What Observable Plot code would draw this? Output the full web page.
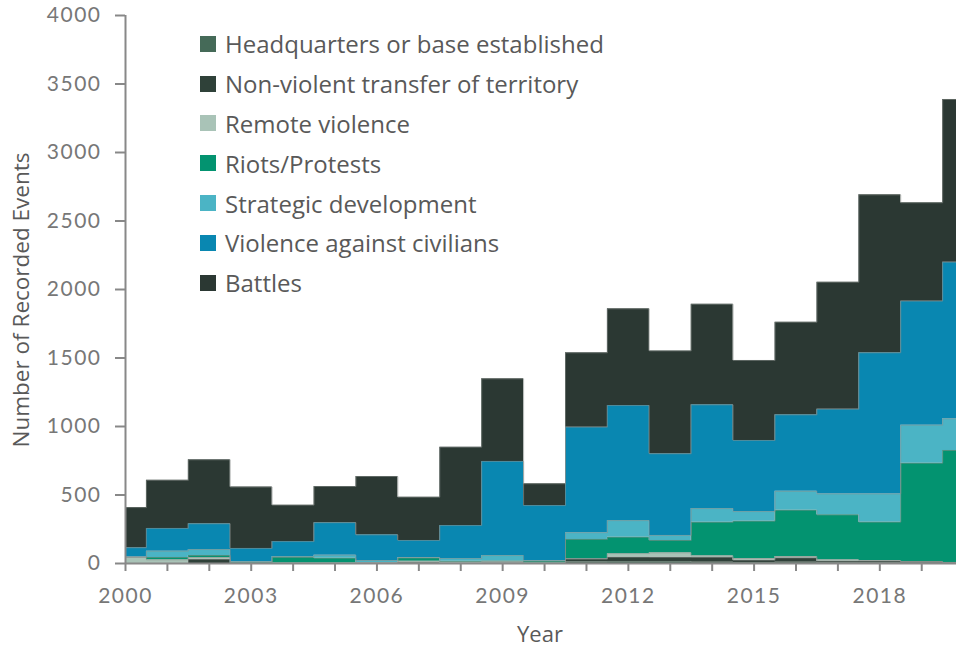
<!DOCTYPE html>
<html>
<head>
<meta charset="utf-8">
<script src="https://cdn.jsdelivr.net/npm/d3@7"></script>
<script src="https://cdn.jsdelivr.net/npm/@observablehq/plot@0.6"></script>
<style>
  html, body { margin: 0; padding: 0; background: #fff; }
  #wrap { position: relative; width: 956px; height: 648px; overflow: hidden; }
  #legend { position: absolute; left: 200px; top: 24px; font-family: "Open Sans", Lato, sans-serif; font-size: 24px; color: #595959; }
  #legend .row { display: flex; align-items: center; height: 39.8px; }
  #legend .sw { width: 16px; height: 16px; margin-right: 9px; flex: none; }
  #ylab { position: absolute; left: 20px; top: 300px; transform: translate(-50%, -50%) rotate(-90deg); white-space: nowrap; font-family: "Open Sans", sans-serif; font-size: 22.5px; color: #595959; }
  #xlab { position: absolute; left: 540px; top: 633px; transform: translate(-50%, -50%); font-family: "Open Sans", sans-serif; font-size: 22px; color: #595959; }
  #chart svg g[aria-label="x-axis tick label"] text,
  #chart svg g[aria-label="y-axis tick label"] text { letter-spacing: 1.5px; }
</style>
</head>
<body>
<div id="wrap">
  <div id="chart"></div>
  <div id="legend"></div>
  <div id="ylab">Number of Recorded Events</div>
  <div id="xlab">Year</div>
</div>
<script>
const years = [2000,2001,2002,2003,2004,2005,2006,2007,2008,2009,2010,2011,2012,2013,2014,2015,2016,2017,2018,2019,2020];
const categories = ["Headquarters or base established","Non-violent transfer of territory","Remote violence","Riots/Protests","Strategic development","Violence against civilians","Battles"];
const colors = ["#456a58","#2f4139","#a9c3b7","#039370","#4bb4c5","#0987b1","#2b3833"];

const headquarters = [0,0,0,0,0,0,0,0,0,3,0,12,15,15,10,8,10,5,5,4,2];
const nonViolent   = [0,0,29,0,0,0,0,5,0,0,0,20,31,30,34,16,31,12,12,8,3];
const remote       = [46,27,15,2,4,3,3,12,10,10,4,3,26,33,12,12,10,10,5,3,3];
const riots        = [0,17,14,8,40,36,2,24,6,5,13,141,120,90,245,273,338,328,280,717,817];
const strategic    = [2,46,44,3,7,22,17,2,20,40,3,49,121,37,100,70,138,153,206,278,231];
const violence     = [67,166,188,97,109,237,187,125,241,687,403,770,840,596,757,519,558,618,1030,905,1143];
const battles      = [293,351,467,448,266,264,426,316,572,603,159,543,706,751,734,584,676,927,1153,718,1188];

const yTicks = [0,500,1000,1500,2000,2500,3000,3500,4000];
const xLabelYears = [2000,2003,2006,2009,2012,2015,2018];

const series = [headquarters, nonViolent, remote, riots, strategic, violence, battles];
const data = [];
series.forEach((vals, i) => vals.forEach((v, j) => data.push({year: years[j], type: categories[i], value: v})));

const chart = Plot.plot({
  width: 956,
  height: 648,
  marginLeft: 125,
  marginRight: 0,
  marginTop: 15,
  marginBottom: 85,
  style: {fontFamily: "Lato, sans-serif", fontSize: "21px", color: "#777", background: "#fff"},
  x: {domain: [2000, 2019.83]},
  y: {domain: [0, 4000]},
  color: {domain: categories, range: colors},
  marks: [
    Plot.areaY(data, {x: "year", y: "value", z: "type", fill: "type", order: categories, curve: "step", clip: true}),
    Plot.lineY(data, Plot.stackY2({x: "year", y: "value", z: "type", order: categories, curve: "step", stroke: "#8a908d", strokeWidth: 1, strokeOpacity: 0.55, clip: true})),
    Plot.axisY({ticks: yTicks, tickSize: 10, tickPadding: 14, tickFormat: d => String(d), label: null, stroke: "#888", strokeWidth: 2, fill: "#777"}),
    Plot.axisX({ticks: years.filter(y => y < 2020), tickSize: 8, tickPadding: 17, tickFormat: d => xLabelYears.includes(d) ? String(d) : "", label: null, stroke: "#888", strokeWidth: 2, fill: "#777"}),
    Plot.ruleX([2000], {stroke: "#888", strokeWidth: 2}),
    Plot.ruleY([0], {stroke: "#888", strokeWidth: 2})
  ]
});
document.getElementById("chart").appendChild(chart);

const legend = document.getElementById("legend");
categories.forEach((c, i) => {
  const row = document.createElement("div");
  row.className = "row";
  const sw = document.createElement("span");
  sw.className = "sw";
  sw.style.background = colors[i];
  const t = document.createElement("span");
  t.textContent = c;
  row.appendChild(sw);
  row.appendChild(t);
  legend.appendChild(row);
});
</script>
</body>
</html>
